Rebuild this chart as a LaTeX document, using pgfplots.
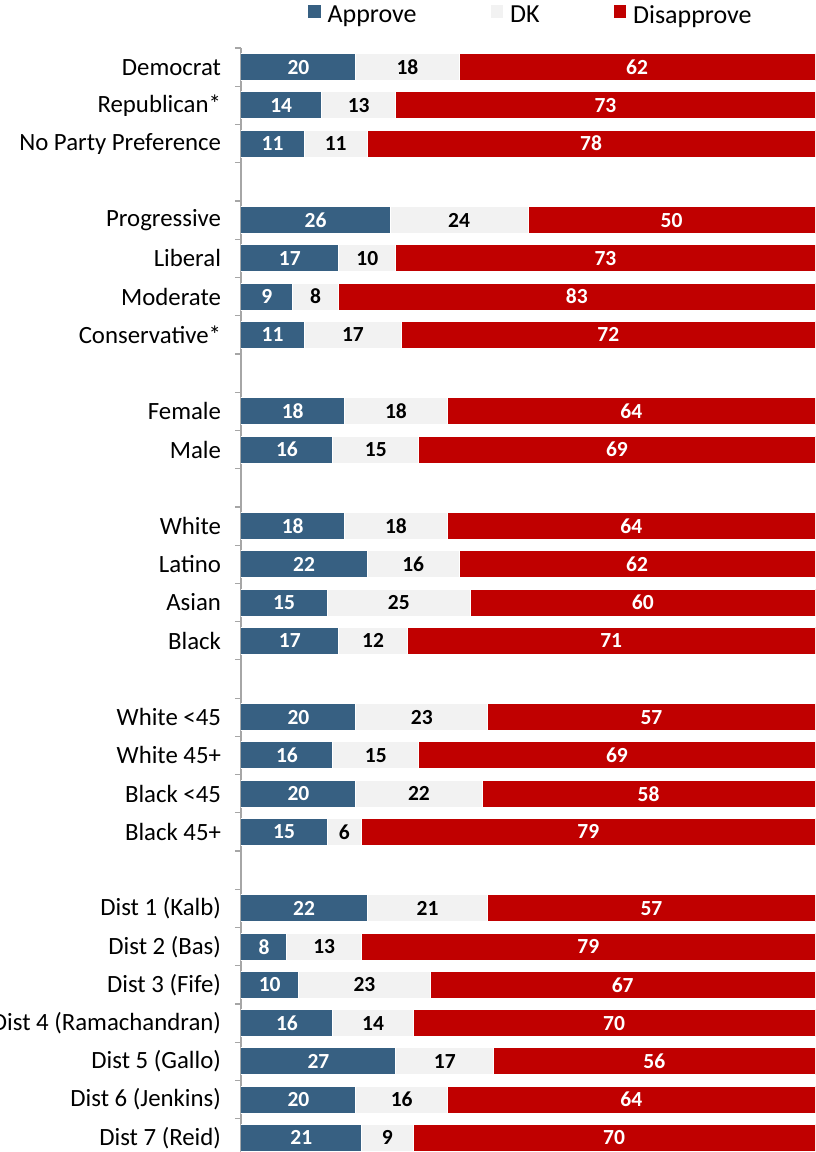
\documentclass[border=0pt]{standalone}
\usepackage{pgfplots}
\pgfplotsset{compat=1.18}
\usepackage{pgfplotstable}
\usepackage{fontspec}
\setmainfont{Carlito}
\definecolor{appr}{RGB}{55,96,130}
\definecolor{dk}{RGB}{242,242,242}
\definecolor{dis}{RGB}{192,0,0}
\definecolor{axgray}{RGB}{166,166,166}

\pgfplotstableread{
y A D R
0 20 18 62
1 14 13 73
2 11 11 78
4 26 24 50
5 17 10 73
6 9 8 83
7 11 17 72
9 18 18 64
10 16 15 69
12 18 18 64
13 22 16 62
14 15 25 60
15 17 12 71
17 20 23 57
18 16 15 69
19 20 22 58
20 15 6 79
22 22 21 57
23 8 13 79
24 10 23 67
25 16 14 70
26 27 17 56
27 20 16 64
28 21 9 70
}\data

\begin{document}
\begin{tikzpicture}
\pgfplotsset{
  common/.style={
    at={(241pt,-48pt)}, anchor=north west,
    scale only axis, width=574pt, height=1104pt,
    xmin=0, xmax=100, ymin=-0.5, ymax=28.37, y dir=reverse,
  }
}
\begin{axis}[common,
  xbar stacked, bar width=27pt,
  axis y line*=left, axis x line=none,
  ytick={0,1,2,4,5,6,7,9,10,12,13,14,15,17,18,19,20,22,23,24,25,26,27,28},
  yticklabels={Democrat, Republican*, No Party Preference, Progressive, Liberal, Moderate, Conservative*, Female, Male, White, Latino, Asian, Black, White <45, White 45+, Black <45, Black 45+, Dist 1 (Kalb), Dist 2 (Bas), Dist 3 (Fife), Dist 4 (Ramachandran), Dist 5 (Gallo), Dist 6 (Jenkins), Dist 7 (Reid)},
  minor ytick={-0.5,0.5,...,27.5},
  major tick length=0pt, minor tick length=6pt, tick align=outside,
  y axis line style={draw=axgray, line width=1.2pt},
  minor tick style={draw=axgray, line width=1.2pt},
  yticklabel style={font=\fontsize{24.8}{27}\selectfont, xshift=-16.5pt, text=black},
  legend style={at={(0.505,1.03)}, anchor=center, draw=none, fill=none,
    font=\fontsize{26}{29}\selectfont, legend columns=3,
    /tikz/every even column/.append style={column sep=72pt}},
  legend image code/.code={\fill[#1, draw=none] (0pt,-3pt) rectangle (12.5pt,9.5pt); \path (17pt,0pt);},
]
\addplot[fill=appr, draw=white, line width=1pt] table[x=A, y=y] {\data};
\addlegendentry{Approve}
\addplot[fill=dk, draw=white, line width=1pt] table[x=D, y=y] {\data};
\addlegendentry{DK}
\addplot[fill=dis, draw=white, line width=1pt] table[x=R, y=y] {\data};
\addlegendentry{Disapprove}
\end{axis}
\begin{axis}[common, hide axis, point meta=explicit,
  /pgf/number format/assume math mode=true,
  every node near coord/.append style={font=\bfseries\fontsize{21.5}{24}\selectfont}]
\addplot[draw=none, mark=none, nodes near coords,
  nodes near coords style={text=white, anchor=center}]
  table[x expr=\thisrow{A}/2, y=y, meta=A] {\data};
\addplot[draw=none, mark=none, nodes near coords,
  nodes near coords style={text=black, anchor=center}]
  table[x expr=\thisrow{A}+\thisrow{D}/2, y=y, meta=D] {\data};
\addplot[draw=none, mark=none, nodes near coords,
  nodes near coords style={text=white, anchor=center}]
  table[x expr=\thisrow{A}+\thisrow{D}+\thisrow{R}/2, y=y, meta=R] {\data};
\end{axis}
\pgfresetboundingbox
\useasboundingbox (0pt,0pt) rectangle (815pt,-1152pt);
\end{tikzpicture}
\end{document}
